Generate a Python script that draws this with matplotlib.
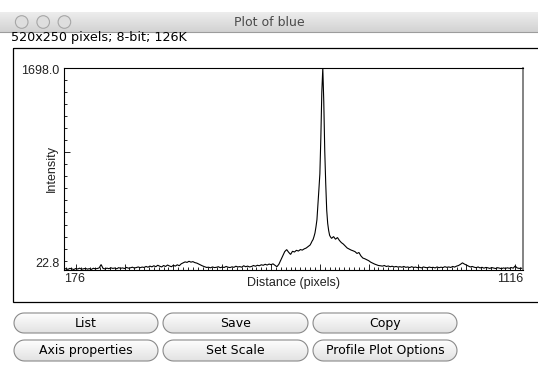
import numpy as np
import matplotlib
matplotlib.use("Agg")
import matplotlib.pyplot as plt
from matplotlib.patches import Rectangle, Circle, PathPatch
from matplotlib.path import Path
from matplotlib.ticker import MultipleLocator, FixedLocator
from matplotlib.colors import to_rgb

# ---------------- data ----------------
window_title = "Plot of blue"
info_text = "520x250 pixels; 8-bit; 126K"
x_label = "Distance (pixels)"
y_label = "Intensity"
x_range = [176, 1116]
y_range = [22.8, 1698.0]
x_tick_labels = ["176", "1116"]
y_tick_labels = ["22.8", "1698.0"]
button_labels_row1 = ["List", "Save", "Copy"]
button_labels_row2 = ["Axis properties", "Set Scale", "Profile Plot Options"]

# profile segment A: distance 176 .. 676, step 4
seg_a_start, seg_a_step = 176, 4
intensity_a = [30, 34, 28, 36, 32, 27, 35, 31, 38, 29, 33, 36, 30, 34, 28, 37,
               33, 35, 40, 68, 36, 32, 38, 34, 41, 36, 39, 33, 42, 37, 40, 35,
               44, 38, 41, 46, 39, 43, 48, 42, 47, 44, 52, 46, 55, 49, 58, 50,
               62, 54, 48, 60, 52, 64, 56, 50, 62, 55, 66, 58, 74, 82, 90, 86,
               95, 88, 92, 84, 80, 72, 64, 56, 50, 44, 46, 41, 48, 43, 45, 50,
               42, 47, 44, 52, 46, 43, 49, 45, 54, 48, 51, 46, 58, 50, 55, 48,
               52, 60, 54, 62, 58, 66, 62, 70, 64, 72, 67, 74, 62, 50, 70, 105,
               140, 175, 192, 170, 152, 178, 172, 186, 180, 192, 188, 198, 205, 218]
# profile segment B (main peak): distance 680 .. 722, step 2
seg_b_start, seg_b_step = 680, 2
intensity_b = [230, 245, 262, 275, 300, 330, 380, 440, 560, 690, 820, 1120,
               1500, 1698, 1420, 1010, 740, 520, 410, 350, 310, 296]
# profile segment C: distance 724 .. 1116, step 4
seg_c_start, seg_c_step = 724, 4
intensity_c = [285, 300, 278, 292, 268, 250, 238, 222, 205, 196, 188, 182, 175,
               160, 168, 140, 122, 116, 108, 100, 88, 80, 72, 66, 60, 58, 55, 60,
               52, 56, 50, 54, 48, 52, 47, 50, 46, 52, 45, 48, 43, 50, 44, 47, 42,
               46, 40, 48, 44, 41, 47, 43, 45, 40, 48, 42, 46, 43, 50, 45, 48, 44,
               52, 47, 55, 60, 70, 82, 72, 64, 55, 48, 52, 46, 42, 48, 40, 45, 38,
               44, 41, 36, 43, 39, 35, 42, 38, 34, 40, 36, 41, 37, 43, 38, 56, 40,
               36, 38, 35]

distance = np.concatenate([
    seg_a_start + seg_a_step * np.arange(len(intensity_a)),
    seg_b_start + seg_b_step * np.arange(len(intensity_b)),
    seg_c_start + seg_c_step * np.arange(len(intensity_c)),
])
intensity = np.array(intensity_a + intensity_b + intensity_c, dtype=float)

# ---------------- figure ----------------
W, H = 538, 390
fig = plt.figure(figsize=(W / 100, H / 100), dpi=100)
fig.patch.set_facecolor("white")

ax0 = fig.add_axes([0, 0, 1, 1])
ax0.axis("off")


def vgrad(ax, x0, y0, x1, y1, c_top, c_bot, z, clip=None):
    n = 64
    t = np.linspace(0, 1, n)[:, None, None]
    top = np.array(to_rgb(c_top))[None, None, :]
    bot = np.array(to_rgb(c_bot))[None, None, :]
    img = top * (1 - t) + bot * t
    im = ax.imshow(img, extent=(x0, x1, y1, y0), aspect="auto",
                   interpolation="bilinear", zorder=z)
    if clip is not None:
        im.set_clip_path(clip)
    return im


def pill_path(xl, yt, xr, yb):
    r = (yb - yt) / 2.0
    cy = (yt + yb) / 2.0
    a1 = np.linspace(-np.pi / 2, np.pi / 2, 20)   # right cap
    a2 = np.linspace(np.pi / 2, 3 * np.pi / 2, 20)  # left cap
    right = np.column_stack([xr - r + r * np.cos(a1), cy + r * np.sin(a1)])
    left = np.column_stack([xl + r + r * np.cos(a2), cy + r * np.sin(a2)])
    verts = np.vstack([right, left, right[:1]])
    codes = [Path.MOVETO] + [Path.LINETO] * (len(verts) - 2) + [Path.CLOSEPOLY]
    return Path(verts, codes)


# title bar
vgrad(ax0, 0, 12, W, 32, "#ededed", "#d2d2d2", 1)
ax0.plot([0, W], [32, 32], color="#9c9c9c", lw=0.8, zorder=2)
for cx in (21.7, 43.2, 64.4):
    ax0.add_patch(Circle((cx, 22), 6.3, facecolor="#dedede", edgecolor="#a6a6a6",
                         lw=0.8, zorder=3))
ax0.text(W / 2, 22.5, window_title, ha="center", va="center", fontsize=9,
         color="#4a4a4a", family="DejaVu Sans", zorder=3)

# info line
ax0.text(11, 37.5, info_text, ha="left", va="center", fontsize=9.2,
         color="black", family="DejaVu Sans", zorder=3)

# image canvas border (right edge lies outside the screenshot)
ax0.add_patch(Rectangle((12.5, 47.5), 540, 254, fill=False, edgecolor="black",
                        lw=0.9, zorder=3, clip_on=True))

# buttons
btn_x = [(14, 158), (163, 308), (313, 457)]
btn_rows = [(313, 333, button_labels_row1), (340, 361, button_labels_row2)]
for (yt, yb, labels) in btn_rows:
    for (xl, xr), lab in zip(btn_x, labels):
        patch = PathPatch(pill_path(xl, yt, xr, yb), facecolor="none",
                          edgecolor="#8a8a8a", lw=0.8, zorder=5)
        ax0.add_patch(patch)
        vgrad(ax0, xl, yt, xr, yb, "#fefefe", "#e2e2e2", 4, clip=patch)
        ax0.text((xl + xr) / 2, (yt + yb) / 2 + 0.3, lab, ha="center", va="center",
                 fontsize=9, color="black", family="DejaVu Sans", zorder=6)

ax0.set_xlim(0, W)
ax0.set_ylim(H, 0)

# ---------------- plot axes ----------------
L, R, T, B = 64, 523, 68, 270
ax = fig.add_axes([L / W, 1 - B / H, (R - L) / W, (B - T) / H])
ax.set_facecolor("white")
ax.plot(distance, intensity, color="black", lw=0.8, solid_joinstyle="miter")
ax.set_xlim(*x_range)
ax.set_ylim(*y_range)

ax.xaxis.set_major_locator(MultipleLocator(100))
ax.xaxis.set_minor_locator(MultipleLocator(10))
ax.yaxis.set_major_locator(FixedLocator([1000]))
ax.yaxis.set_minor_locator(MultipleLocator(100))
ax.tick_params(which="both", direction="in", labelbottom=False, labelleft=False,
               top=False, right=False, width=0.6, color="black")
ax.tick_params(which="major", length=4.3)
ax.tick_params(which="minor", length=2.2)

for side in ("left", "top", "bottom"):
    ax.spines[side].set_color("black")
    ax.spines[side].set_linewidth(0.8)
ax.spines["right"].set_color("#7a7a7a")
ax.spines["right"].set_linewidth(1.3)

lab_font = dict(family="Liberation Sans", fontsize=9, color="#222222")
ax.annotate(y_tick_labels[1], xy=(0, y_range[1]), xycoords=("axes fraction", "data"),
            xytext=(-4.7, -2.8), textcoords="offset pixels", ha="right", va="center",
            **lab_font)
ax.annotate(y_tick_labels[0], xy=(0, y_range[0]), xycoords=("axes fraction", "data"),
            xytext=(-4.7, 6.3), textcoords="offset pixels", ha="right", va="center",
            **lab_font)
ax.annotate(x_tick_labels[0], xy=(x_range[0], 0), xycoords=("data", "axes fraction"),
            xytext=(0, -9.5), textcoords="offset pixels", ha="left", va="center",
            **lab_font)
ax.annotate(x_tick_labels[1], xy=(x_range[1], 0), xycoords=("data", "axes fraction"),
            xytext=(0, -9.5), textcoords="offset pixels", ha="right", va="center",
            **lab_font)
ax.annotate(x_label, xy=(0.5, 0), xycoords="axes fraction", xytext=(0, -13),
            textcoords="offset pixels", ha="center", va="center", **lab_font)
ax.annotate(y_label, xy=(0, 0.5), xycoords="axes fraction", xytext=(-12.5, 0),
            textcoords="offset pixels", ha="center", va="center", rotation=90,
            **lab_font)

fig.savefig("out.png", dpi=100, facecolor="white")
